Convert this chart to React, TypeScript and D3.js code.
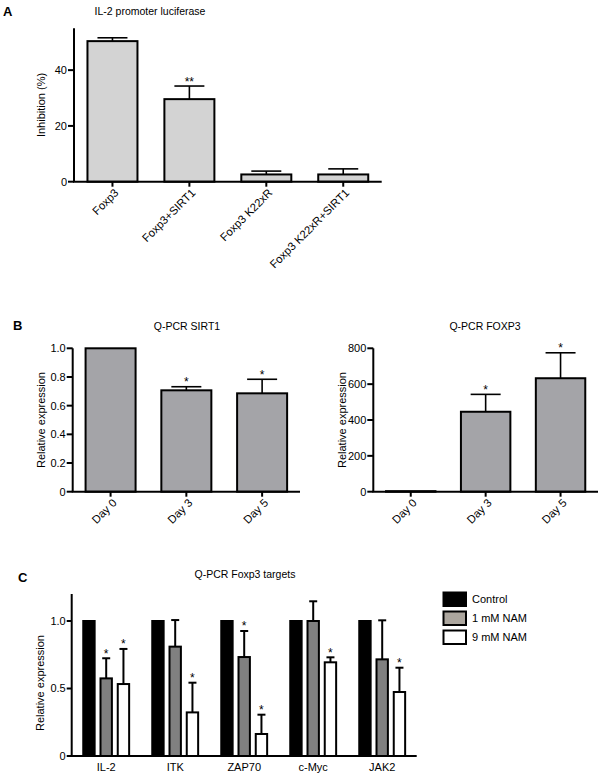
import React from 'react';
import * as d3 from 'd3';

// ---------- Panel A data ----------
const aCategories = ['Foxp3', 'Foxp3+SIRT1', 'Foxp3 K22xR', 'Foxp3 K22xR+SIRT1'];
const aValues = [50.4, 29.6, 2.6, 2.6];
const aErrTop = [51.6, 34.3, 3.8, 4.6];
const aStars = ['', '**', '', ''];
const aTicks = [0, 20, 40];

// ---------- Panel B data ----------
const bCategories = ['Day 0', 'Day 3', 'Day 5'];
const sirt1Values = [1.0, 0.707, 0.686];
const sirt1ErrTop = [1.0, 0.732, 0.784];
const sirt1Stars = ['', '*', '*'];
const sirt1Ticks = [0, 0.2, 0.4, 0.6, 0.8, 1.0];
const foxp3Values = [3, 446, 633];
const foxp3ErrTop = [3, 543, 775];
const foxp3Stars = ['', '*', '*'];
const foxp3Ticks = [0, 200, 400, 600, 800];

// ---------- Panel C data ----------
const cGenes = ['IL-2', 'ITK', 'ZAP70', 'c-Myc', 'JAK2'];
const cSeries = ['Control', '1 mM NAM', '9 mM NAM'];
const controlValues = [1, 1, 1, 1, 1];
const nam1Values = [0.575, 0.81, 0.733, 1.0, 0.716];
const nam1ErrTop = [0.724, 1.007, 0.926, 1.146, 1.005];
const nam9Values = [0.533, 0.323, 0.163, 0.694, 0.474];
const nam9ErrTop = [0.793, 0.543, 0.306, 0.731, 0.654];
const nam1Stars = ['*', '', '*', '', ''];
const nam9Stars = ['*', '*', '*', '*', '*'];
const cTicks = [0, 0.5, 1.0];

const FONT = 'Liberation Sans, Arial, Helvetica, sans-serif';

type PanelProps = {
  categories: string[];
  values: number[];
  errTop: number[];
  stars: string[];
  ticks: number[];
  fmt: (v: number) => string;
  yMax: number;
  axisTopVal: number;
  x0: number;
  x1: number;
  y0: number;
  y1: number;
  fill: string;
  barFrac: number;
  capW: number;
  title: string;
  titleX: number;
  titleY: number;
  yLabel: string;
  yLabelX: number;
  labelFont: number;
};

function BarPanel(p: PanelProps) {
  const y = d3.scaleLinear().domain([0, p.yMax]).range([p.y0, p.y1]);
  const x = d3.scaleBand<string>().domain(p.categories).range([p.x0, p.x1]).padding(0);
  const bw = x.bandwidth() * p.barFrac;
  const yTop = y(p.axisTopVal);
  return (
    <g>
      <text x={p.titleX} y={p.titleY} fontSize={10.5} textAnchor="middle" fontFamily={FONT}>{p.title}</text>
      <text transform={`translate(${p.yLabelX},${(p.y0 + yTop) / 2}) rotate(-90)`} fontSize={11} textAnchor="middle" fontFamily={FONT}>{p.yLabel}</text>
      {p.categories.map((c, i) => {
        const cx = (x(c) as number) + x.bandwidth() / 2;
        const yv = y(p.values[i]);
        const ye = y(p.errTop[i]);
        return (
          <g key={c}>
            {p.errTop[i] > p.values[i] && (
              <g stroke="#000" strokeWidth={1.6}>
                <line x1={cx} x2={cx} y1={yv} y2={ye} />
                <line x1={cx - p.capW / 2} x2={cx + p.capW / 2} y1={ye} y2={ye} />
              </g>
            )}
            <rect x={cx - bw / 2} y={yv} width={bw} height={p.y0 - yv} fill={p.fill} stroke="#000" strokeWidth={2} />
            {p.stars[i] && (
              <text x={cx} y={ye - 0.5} fontSize={12} textAnchor="middle" fontFamily={FONT}>{p.stars[i]}</text>
            )}
            <line x1={cx} x2={cx} y1={p.y0} y2={p.y0 + 5} stroke="#000" strokeWidth={2} />
            <text transform={`translate(${cx + 4},${p.y0 + 9}) rotate(-45)`} fontSize={p.labelFont} textAnchor="end" dy="0.35em" fontFamily={FONT}>{c}</text>
          </g>
        );
      })}
      <line x1={p.x0} x2={p.x0} y1={p.y0} y2={yTop} stroke="#000" strokeWidth={2} />
      <line x1={p.x0 - 1} x2={p.x1} y1={p.y0} y2={p.y0} stroke="#000" strokeWidth={2} />
      {p.ticks.map(t => (
        <g key={t}>
          <line x1={p.x0 - 6} x2={p.x0} y1={y(t)} y2={y(t)} stroke="#000" strokeWidth={2} />
          <text x={p.x0 - 7} y={y(t)} dy="0.35em" fontSize={11} textAnchor="end" fontFamily={FONT}>{p.fmt(t)}</text>
        </g>
      ))}
    </g>
  );
}

function PanelC() {
  const x0 = 71.7, x1 = 416.7, y0 = 756, y1 = 594;
  const yMax = 1.2;
  const y = d3.scaleLinear().domain([0, yMax]).range([y0, y1]);
  const x = d3.scaleBand<string>().domain(cGenes).range([x0, x1]).padding(0);
  const bwG = x.bandwidth();
  const inner = d3.scaleBand<string>().domain(cSeries).range([bwG * 0.125, bwG * 0.875]).padding(0);
  const barW = inner.bandwidth() * 0.66;
  const fills = ['#000', '#808080', '#fff'];
  const seriesVals = [controlValues, nam1Values, nam9Values];
  const seriesErr = [controlValues, nam1ErrTop, nam9ErrTop];
  const seriesStars = [['', '', '', '', ''], nam1Stars, nam9Stars];
  const legendFills = ['#000', '#aca69e', '#fff'];
  return (
    <g>
      <text x={18} y={581.7} fontSize={13} fontWeight="bold" fontFamily={FONT}>C</text>
      <text x={245} y={578} fontSize={10.5} textAnchor="middle" fontFamily={FONT}>Q-PCR Foxp3 targets</text>
      <text transform={`translate(44,${(y0 + y1) / 2 + 8}) rotate(-90)`} fontSize={11} textAnchor="middle" fontFamily={FONT}>Relative expression</text>
      {cGenes.map((g, gi) => {
        const gx = x(g) as number;
        return (
          <g key={g}>
            {cSeries.map((s, si) => {
              const cx = gx + (inner(s) as number) + inner.bandwidth() / 2;
              const yv = y(seriesVals[si][gi]);
              const ye = y(seriesErr[si][gi]);
              return (
                <g key={s}>
                  {seriesErr[si][gi] > seriesVals[si][gi] && (
                    <g stroke="#000" strokeWidth={2}>
                      <line x1={cx} x2={cx} y1={yv} y2={ye} />
                      <line x1={cx - 4} x2={cx + 4} y1={ye} y2={ye} />
                    </g>
                  )}
                  <rect x={cx - barW / 2} y={yv} width={barW} height={y0 - yv} fill={fills[si]} stroke="#000" strokeWidth={2} />
                  {seriesStars[si][gi] && (
                    <text x={cx} y={ye - 0.5} fontSize={12} textAnchor="middle" fontFamily={FONT}>{seriesStars[si][gi]}</text>
                  )}
                </g>
              );
            })}
            <text x={gx + bwG / 2} y={y0 + 15} fontSize={11} textAnchor="middle" fontFamily={FONT}>{g}</text>
          </g>
        );
      })}
      <line x1={x0} x2={x0} y1={y0} y2={y1} stroke="#000" strokeWidth={2} />
      <line x1={x0 - 1} x2={x1} y1={y0} y2={y0} stroke="#000" strokeWidth={2} />
      {cTicks.map(t => (
        <g key={t}>
          <line x1={x0 - 5} x2={x0} y1={y(t)} y2={y(t)} stroke="#000" strokeWidth={2} />
          <text x={x0 - 6} y={y(t)} dy="0.35em" fontSize={11} textAnchor="end" fontFamily={FONT}>{t === 0 ? '0' : t.toFixed(1)}</text>
        </g>
      ))}
      {cSeries.map((s, i) => {
        const ly = 592.5 + i * 19;
        return (
          <g key={s}>
            <rect x={443.5} y={ly} width={22.5} height={13.5} fill={legendFills[i]} stroke="#000" strokeWidth={2} />
            <text x={472} y={ly + 7} dy="0.35em" fontSize={11} fontFamily={FONT}>{s}</text>
          </g>
        );
      })}
    </g>
  );
}

export default function App() {
  return (
    <svg width={603} height={775} style={{ position: 'absolute', left: 0, top: 0, background: '#fff' }}>
      <rect x={0} y={0} width={603} height={775} fill="#fff" />
      <text x={3} y={15.5} fontSize={13} fontWeight="bold" fontFamily={FONT}>A</text>
      <BarPanel
        categories={aCategories} values={aValues} errTop={aErrTop} stars={aStars} ticks={aTicks}
        fmt={v => String(v)} yMax={55} axisTopVal={55}
        x0={74} x1={381.7} y0={181.7} y1={28.3} fill="#d3d3d3" barFrac={0.65} capW={30}
        title="IL-2 promoter luciferase" titleX={150} titleY={14.5}
        yLabel="Inhibition (%)" yLabelX={45} labelFont={11.3}
      />
      <text x={13} y={329.5} fontSize={13} fontWeight="bold" fontFamily={FONT}>B</text>
      <BarPanel
        categories={bCategories} values={sirt1Values} errTop={sirt1ErrTop} stars={sirt1Stars} ticks={sirt1Ticks}
        fmt={v => (v === 0 ? '0' : v.toFixed(1))} yMax={1} axisTopVal={1}
        x0={72.7} x1={300} y0={491.7} y1={348.3} fill="#a4a4a8" barFrac={0.66} capW={30}
        title="Q-PCR SIRT1" titleX={187} titleY={330}
        yLabel="Relative expression" yLabelX={45} labelFont={11.3}
      />
      <BarPanel
        categories={bCategories} values={foxp3Values} errTop={foxp3ErrTop} stars={foxp3Stars} ticks={foxp3Ticks}
        fmt={v => String(v)} yMax={800} axisTopVal={800}
        x0={373.3} x1={598} y0={491.7} y1={348.3} fill="#a4a4a8" barFrac={0.66} capW={30}
        title="Q-PCR FOXP3" titleX={485} titleY={330}
        yLabel="Relative expression" yLabelX={345.5} labelFont={11.3}
      />
      <PanelC />
    </svg>
  );
}
